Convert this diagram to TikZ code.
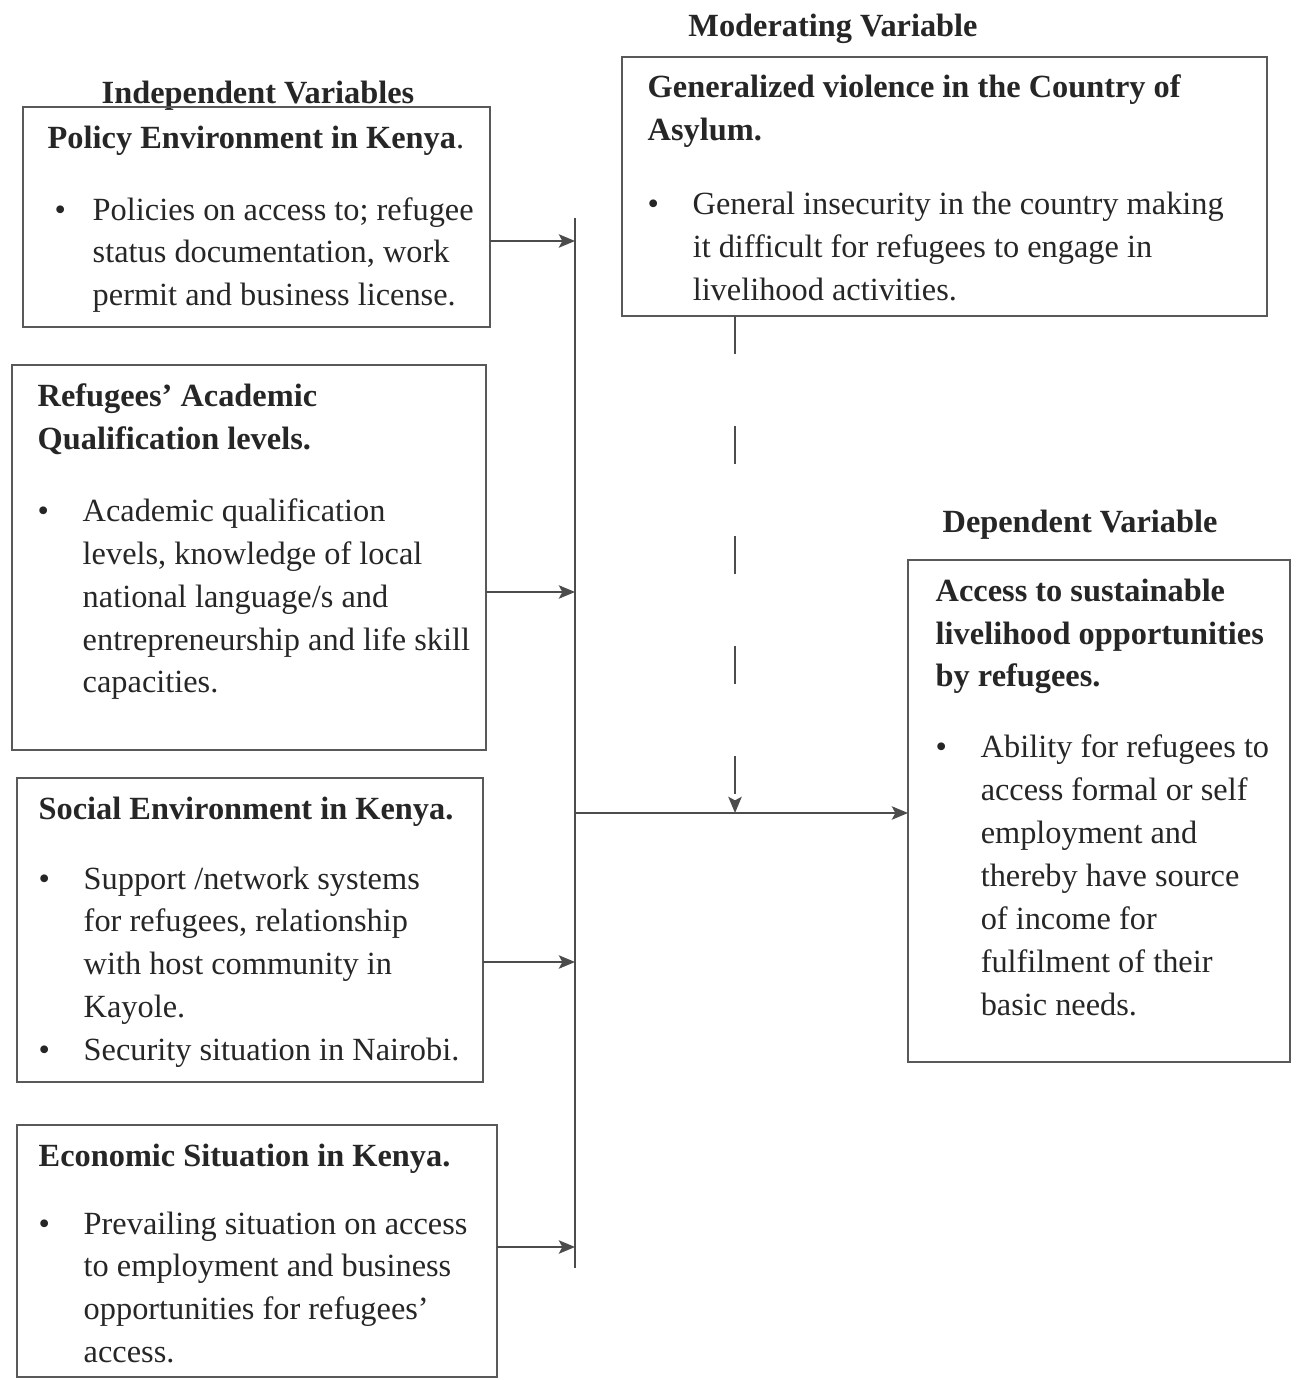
\documentclass[tikz,border=0pt]{standalone}
\usepackage{fontspec}
\setmainfont{Liberation Serif}
\usetikzlibrary{arrows.meta, positioning, calc}

\tikzstyle{box} = [rectangle, draw=black!65, line width=0.6pt, inner sep=0pt, outer sep=0pt, anchor=north west]
\tikzstyle{boxtext} = [anchor=north west, align=left, inner sep=0pt, text=black!85, font={\fontsize{9.2pt}{12.2pt}\selectfont}]
\tikzstyle{heading} = [anchor=base, inner sep=0pt, text=black!85, font={\fontsize{9.2pt}{12.2pt}\selectfont\bfseries}]
\tikzstyle{arrow} = [draw=black!70, line width=0.6pt, -{Stealth[length=4.6pt,width=3.8pt,inset=1pt]}]
\tikzstyle{busline} = [draw=black!70, line width=0.6pt]

\newcommand{\bul}{\makebox[0.45cm][l]{\textbullet}}
\newcommand{\ind}{\hspace*{0.45cm}}

\begin{document}
\begin{tikzpicture}[x=0.01cm, y=-0.01cm]
\useasboundingbox (0,0) rectangle (1300,1380);

% Headings
\node (indhead) [heading] at (258,104) {Independent Variables};
\node (modhead) [heading] at (833,37) {Moderating Variable};
\node (dephead) [heading] at (1080,533) {Dependent Variable};

% Independent variables
\node (policy) [box, minimum width=4.67cm, minimum height=2.2cm] at (23,107) {};
\node (policytxt) [boxtext] at ([shift={(0.24cm,-0.18cm)}]policy.north west) {\textbf{Policy Environment in Kenya}.\\[0.29cm]
\hspace*{0.07cm}\makebox[0.38cm][l]{\textbullet}Policies on access to; refugee\\
\ind status documentation, work\\
\ind permit and business license.};

\node (acad) [box, minimum width=4.74cm, minimum height=3.85cm] at (12,365) {};
\node (acadtxt) [boxtext] at ([shift={(0.25cm,-0.18cm)}]acad.north west) {\textbf{Refugees' Academic}\\
\textbf{Qualification levels.}\\[0.29cm]
\bul Academic qualification\\
\ind levels, knowledge of local\\
\ind national language/s and\\
\ind entrepreneurship and life skill\\
\ind capacities.};

\node (social) [box, minimum width=4.66cm, minimum height=3.04cm] at (17,778) {};
\node (socialtxt) [boxtext] at ([shift={(0.21cm,-0.18cm)}]social.north west) {\textbf{Social Environment in Kenya.}\\[0.27cm]
\bul Support /network systems\\
\ind for refugees, relationship\\
\ind with host community in\\
\ind Kayole.\\
\bul Security situation in Nairobi.};

\node (econ) [box, minimum width=4.80cm, minimum height=2.52cm] at (17,1125) {};
\node (econtxt) [boxtext] at ([shift={(0.21cm,-0.18cm)}]econ.north west) {\textbf{Economic Situation in Kenya.}\\[0.25cm]
\bul Prevailing situation on access\\
\ind to employment and business\\
\ind opportunities for refugees'\\
\ind access.};

% Moderating variable
\node (mod) [box, minimum width=6.45cm, minimum height=2.59cm] at (622,57) {};
\node (modtxt) [boxtext] at ([shift={(0.25cm,-0.17cm)}]mod.north west) {\textbf{Generalized violence in the Country of}\\
\textbf{Asylum.}\\[0.31cm]
\bul General insecurity in the country making\\
\ind it difficult for refugees to engage in\\
\ind livelihood activities.};

% Dependent variable
\node (dep) [box, minimum width=3.82cm, minimum height=5.02cm] at (908,560) {};
\node (deptxt) [boxtext] at ([shift={(0.27cm,-0.18cm)}]dep.north west) {\textbf{Access to sustainable}\\
\textbf{livelihood opportunities}\\
\textbf{by refugees.}\\[0.28cm]
\bul Ability for refugees to\\
\ind access formal or self\\
\ind employment and\\
\ind thereby have source\\
\ind of income for\\
\ind fulfilment of their\\
\ind basic needs.};

% Bus line collecting the independent variables
\coordinate (bustop) at (575,218);
\coordinate (busbot) at (575,1268);
\draw [busline] (bustop) -- (busbot);

\coordinate (b1) at (575,241);
\coordinate (b2) at (575,592);
\coordinate (b3) at (575,962);
\coordinate (b4) at (575,1247);
\coordinate (bmid) at (575,813);
\coordinate (join) at (735,813);

% Arrows into the bus
\draw [arrow] (policy.east |- b1) -- (b1);
\draw [arrow] (acad.east |- b2) -- (b2);
\draw [arrow] (social.east |- b3) -- (b3);
\draw [arrow] (econ.east |- b4) -- (b4);

% Bus to dependent variable, moderator joining
\draw [arrow] (bmid) -- (dep.west |- bmid);
\draw [arrow, dash pattern=on 0.38cm off 0.72cm] (mod.south -| join) -- (join);

\end{tikzpicture}
\end{document}
